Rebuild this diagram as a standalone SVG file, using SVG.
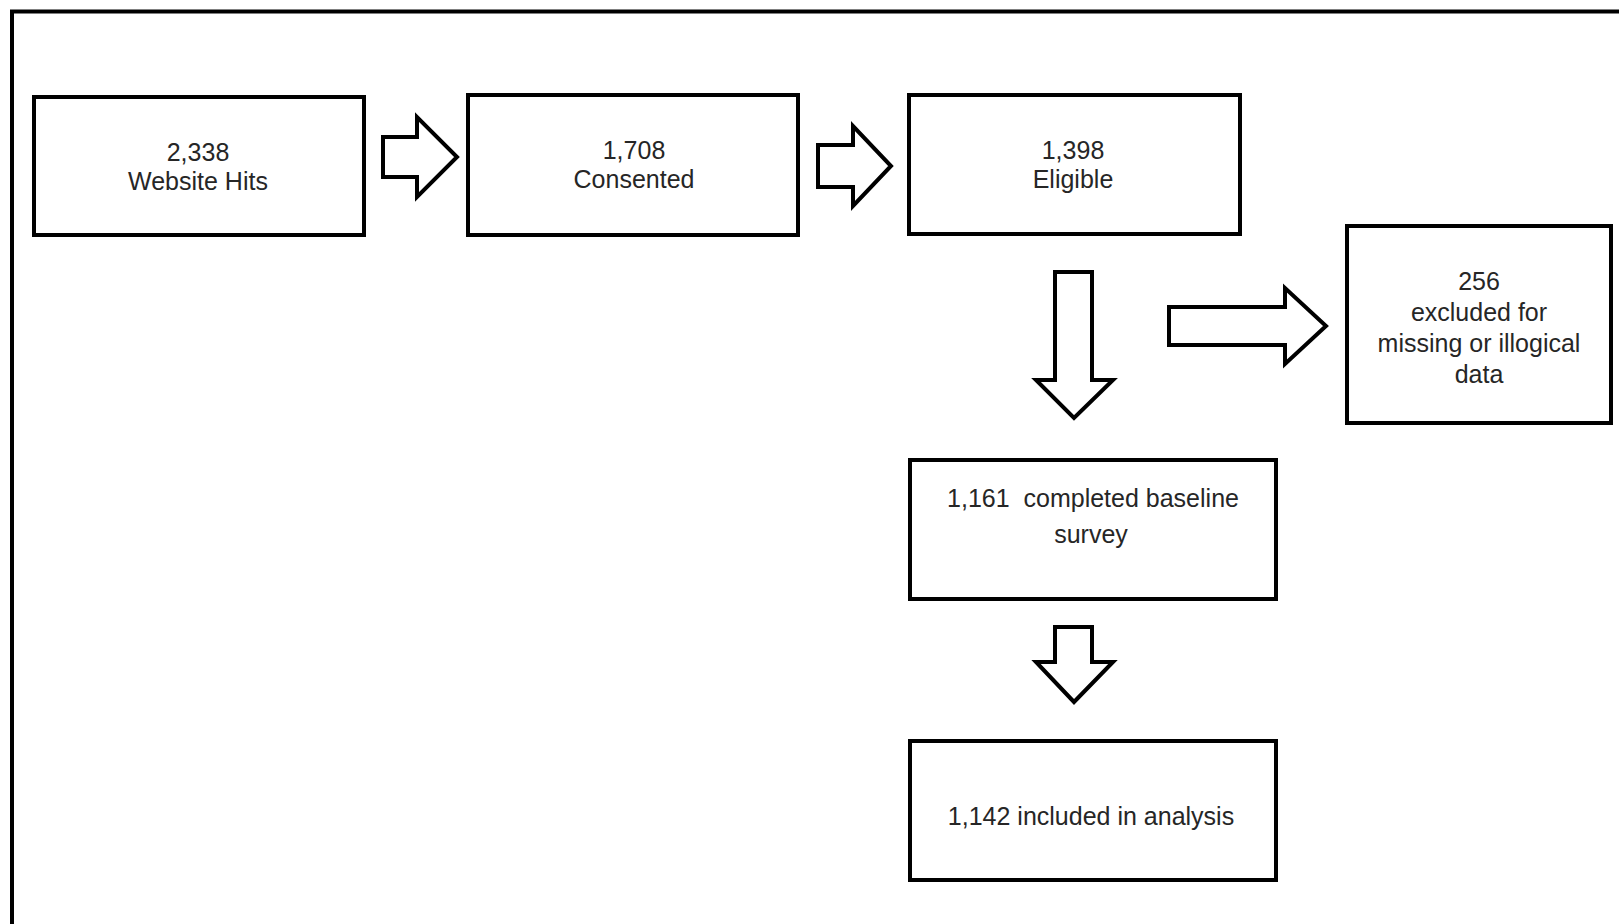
<svg xmlns="http://www.w3.org/2000/svg" width="1619" height="924" viewBox="0 0 1619 924">
<style>
  .box { fill: #ffffff; stroke: #000000; stroke-width: 4; }
  .arrow { fill: #ffffff; stroke: #000000; stroke-width: 4; stroke-linejoin: miter; }
  .frame { fill: none; stroke: #000000; stroke-width: 4; }
  text { font-family: "Liberation Sans", Arial, sans-serif; font-size: 25px; fill: #262626; text-anchor: middle; white-space: pre; }
</style>
<rect width="1619" height="924" fill="#ffffff"/>
<rect class="frame" x="12" y="11.5" width="1700" height="1000"/>
<g id="connectors">
  <polygon class="arrow" points="383,137 417,137 417,117 457,157 417,197 417,177 383,177"/>
  <polygon class="arrow" points="818,145 853,145 853,126 891,166 853,206 853,187 818,187"/>
  <polygon class="arrow" points="1169,307 1285,307 1285,288 1326,326 1285,364 1285,345 1169,345"/>
  <polygon class="arrow" points="1055,272 1092,272 1092,380 1113,380 1074,418 1036,380 1055,380"/>
  <polygon class="arrow" points="1055,627 1092,627 1092,662 1113,662 1074,702 1036,662 1055,662"/>
</g>
<g id="node-website-hits">
  <rect class="box" x="34" y="97" width="330" height="138"/>
  <text x="198" y="161">2,338</text>
  <text x="198" y="190">Website Hits</text>
</g>
<g id="node-consented">
  <rect class="box" x="468" y="95" width="330" height="140"/>
  <text x="634" y="159">1,708</text>
  <text x="634" y="188">Consented</text>
</g>
<g id="node-eligible">
  <rect class="box" x="909" y="95" width="331" height="139"/>
  <text x="1073" y="159">1,398</text>
  <text x="1073" y="188">Eligible</text>
</g>
<g id="node-excluded">
  <rect class="box" x="1347" y="226" width="264" height="197"/>
  <text x="1479" y="290">256</text>
  <text x="1479" y="321">excluded for</text>
  <text x="1479" y="352">missing or illogical</text>
  <text x="1479" y="383">data</text>
</g>
<g id="node-completed">
  <rect class="box" x="910" y="460" width="366" height="139"/>
  <text x="1093" y="507">1,161  completed baseline</text>
  <text x="1091" y="543">survey</text>
</g>
<g id="node-included">
  <rect class="box" x="910" y="741" width="366" height="139"/>
  <text x="1091" y="825">1,142 included in analysis</text>
</g>
</svg>
